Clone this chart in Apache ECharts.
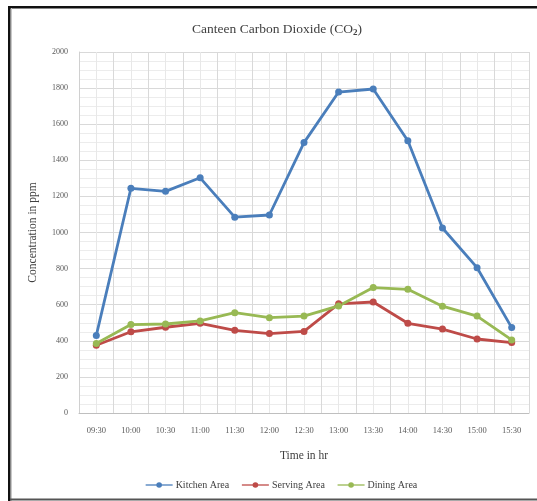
<!DOCTYPE html>
<html>
<head>
<meta charset="utf-8">
<script src="https://cdn.jsdelivr.net/npm/echarts@6/dist/echarts.min.js"></script>
<style>
  html, body { margin: 0; padding: 0; background: #fff; }
  #chart { width: 537px; height: 501px; }
</style>
</head>
<body>
<div id="chart"></div>
<script>
// Sampling times (half-hourly)
const times = ['09:30', '10:00', '10:30', '11:00', '11:30', '12:00', '12:30',
               '13:00', '13:30', '14:00', '14:30', '15:00', '15:30'];

// CO2 concentration in ppm for each area
const kitchenArea = [430, 1245, 1228, 1303, 1085, 1097, 1498, 1778, 1795, 1508, 1025, 805, 473];
const servingArea = [375, 450, 475, 497, 458, 440, 452, 605, 615, 497, 465, 410, 390];
const diningArea  = [385, 490, 493, 510, 556, 528, 537, 593, 695, 685, 592, 537, 405];

const serif = '"Liberation Serif", "DejaVu Serif", serif';
const colors = ['#4a7ebb', '#be4b48', '#98b954'];

function lineSeries(name, data, color) {
  return {
    name: name,
    type: 'line',
    data: data,
    xAxisIndex: 0,
    yAxisIndex: 0,
    symbol: 'circle',
    symbolSize: 7,
    color: color,
    lineStyle: { width: 2.8, color: color },
    itemStyle: { color: color },
    z: 3
  };
}

const chart = echarts.init(document.getElementById('chart'), null, { renderer: 'canvas' });
chart.setOption({
  animation: false,
  backgroundColor: '#fff',
  title: {
    text: '{a|Canteen Carbon Dioxide (CO}{s|2}{a|)}',
    left: 272,
    top: 17,
    textAlign: 'center',
    textStyle: {
      rich: {
        a: { fontFamily: serif, fontSize: 13.5, color: '#404040', fontWeight: 'normal' },
        s: { fontFamily: serif, fontSize: 9, color: '#404040', verticalAlign: 'bottom', padding: [6, 0, 0, 0] }
      }
    }
  },
  legend: {
    bottom: 6,
    left: 140,
    itemGap: 12,
    itemWidth: 27,
    itemHeight: 7,
    lineStyle: { width: 1.3 },
    textStyle: { fontFamily: serif, fontSize: 10, color: '#404040', padding: [0, 0, 0, -2] },
    data: ['Kitchen Area', 'Serving Area', 'Dining Area']
  },
  grid: { left: 79, right: 8, top: 52, bottom: 88, containLabel: false },
  xAxis: [
    {
      type: 'category',
      data: times,
      boundaryGap: true,
      name: 'Time in hr',
      nameLocation: 'middle',
      nameGap: 37,
      nameTextStyle: { fontFamily: serif, fontSize: 11.5, color: '#404040' },
      axisLine: { lineStyle: { color: '#bfbfbf', width: 1 } },
      axisTick: { show: false },
      axisLabel: { fontFamily: serif, fontSize: 8.5, color: '#595959', margin: 13, interval: 0 },
      splitLine: { show: false }
    },
    {
      // half-category gridlines: even = category borders, odd = category centres
      type: 'value',
      min: 0,
      max: 26,
      interval: 1,
      show: true,
      axisLine: { show: false },
      axisTick: { show: false },
      axisLabel: { show: false },
      splitLine: { show: true, lineStyle: { color: ['#d9d9d9', '#e8e8e8'], width: 1 } }
    }
  ],
  yAxis: {
    type: 'value',
    min: 0,
    max: 2000,
    interval: 200,
    name: 'Concentration in ppm',
    nameLocation: 'middle',
    nameGap: 40,
    nameRotate: 90,
    nameTextStyle: { fontFamily: serif, fontSize: 11.5, color: '#404040' },
    axisLine: { show: true, lineStyle: { color: '#d0d0d0' } },
    axisTick: { show: false },
    axisLabel: {
      fontFamily: serif, fontSize: 8, color: '#595959', margin: 11,
      formatter: function (v) { return String(v); }
    },
    splitLine: { show: true, lineStyle: { color: '#d9d9d9', width: 1 } },
    minorTick: { show: false, splitNumber: 4 },
    minorSplitLine: { show: true, lineStyle: { color: '#ececec', width: 1 } }
  },
  series: [
    lineSeries('Kitchen Area', kitchenArea, colors[0]),
    lineSeries('Serving Area', servingArea, colors[1]),
    lineSeries('Dining Area', diningArea, colors[2])
  ],
  graphic: [
    // outer frame lines
    { type: 'rect', shape: { x: 8, y: 6, width: 529, height: 2.5 }, style: { fill: '#111' }, silent: true },
    { type: 'rect', shape: { x: 8, y: 6, width: 2.5, height: 495 }, style: { fill: '#111' }, silent: true },
    { type: 'rect', shape: { x: 11, y: 8, width: 1, height: 493 }, style: { fill: '#c8c8c8' }, silent: true },
    { type: 'rect', shape: { x: 10, y: 498.5, width: 527, height: 2 }, style: { fill: '#555' }, silent: true }
  ]
});
</script>
</body>
</html>
